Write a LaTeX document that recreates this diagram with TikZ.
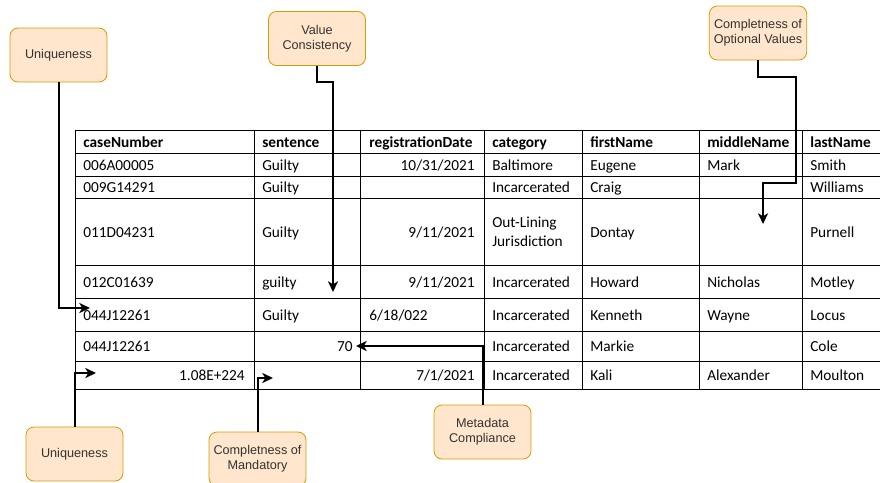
\documentclass[tikz,border=0pt]{standalone}
\usepackage{fontspec}
\setmainfont{Carlito}
\newfontfamily\notefont{Liberation Sans}
\usetikzlibrary{arrows.meta}
\definecolor{notefill}{HTML}{FFE6CC}
\definecolor{noteline}{HTML}{D79B00}
\definecolor{notetext}{HTML}{333333}

\begin{document}
\begin{tikzpicture}[x=0.75pt,y=-0.75pt,
  note/.style={draw=noteline, fill=notefill, line width=0.6pt, rounded corners=6pt,
    minimum width=72.75pt, minimum height=40.5pt, align=center, text=notetext,
    font=\notefont\fontsize{9.5}{11.5}\selectfont},
  cell/.style={anchor=base west, inner sep=0pt, font=\fontsize{11.5}{14.5}\selectfont},
  rcell/.style={cell, anchor=base east},
  head/.style={cell, font=\bfseries\fontsize{11.5}{14.5}\selectfont},
  link/.style={line width=1.5pt, -{Stealth[length=8pt,width=7.5pt,inset=2.2pt]}}]
  \clip (0,0) rectangle (880,482);
  % table grid
  \draw[line width=0.75pt] (75,130) rectangle (900,389);
  \foreach \y in {153,176,198,265,298,331,361}
    \draw[line width=0.75pt] (75,\y) -- (900,\y);
  \foreach \x in {254,360,484,582,699,802}
    \draw[line width=0.75pt] (\x,130) -- (\x,389);
  % header row
  \foreach \x/\t [count=\i] in {83/caseNumber,262/sentence,369/registrationDate,492/category,590/firstName,707/middleName,810/lastName}
    \node[head] (h\i) at (\x,147) {\t};
  % caseNumber
  \foreach \y/\t [count=\i] in {170/006A00005,192.5/009G14291,237/011D04231,287/012C01639,320/044J12261,351.5/044J12261}
    \node[cell] (a\i) at (83,\y) {\t};
  \node[rcell] (a7) at (245,380.5) {1.08E+224};
  % sentence
  \foreach \y/\t [count=\i] in {170/Guilty,192.5/Guilty,237/Guilty,287/guilty,320/Guilty}
    \node[cell] (b\i) at (262,\y) {\t};
  \node[rcell] (b6) at (353,351.5) {70};
  % registrationDate
  \node[rcell] (c1) at (475,170) {10/31/2021};
  \node[rcell] (c3) at (475,237) {9/11/2021};
  \node[rcell] (c4) at (475,287) {9/11/2021};
  \node[cell] (c5) at (369,320) {6/18/022};
  \node[rcell] (c7) at (475,380.5) {7/1/2021};
  % category
  \node[cell] (d1) at (492,170) {Baltimore};
  \node[cell, anchor=west, align=left] (d3) at (492,232) {Out-Lining\\Jurisdiction};
  \foreach \i/\y in {2/192.5,4/287,5/320,6/351.5,7/380.5}
    \node[cell] (d\i) at (492,\y) {Incarcerated};
  % firstName
  \foreach \y/\t [count=\i] in {170/Eugene,192.5/Craig,237/Dontay,287/Howard,320/Kenneth,351.5/Markie,380.5/Kali}
    \node[cell] (e\i) at (590,\y) {\t};
  % middleName
  \foreach \i/\y/\t in {1/170/Mark,4/287/Nicholas,5/320/Wayne,7/380.5/Alexander}
    \node[cell] (f\i) at (707,\y) {\t};
  % lastName
  \foreach \y/\t [count=\i] in {170/Smith,192.5/Williams,237/Purnell,287/Motley,320/Locus,351.5/Cole,380.5/Moulton}
    \node[cell] (g\i) at (810,\y) {\t};

  % notes
  \node[note] (uniq1) at (58.5,55) {Uniqueness};
  \node[note] (valcons) at (317,38.5) {Value\\Consistency};
  \node[note] (optval) at (758,33) {Completness of\\Optional Values};
  \node[note] (uniq2) at (74.5,454) {Uniqueness};
  \node[note] (mandval) at (257.5,459) {Completness of\\Mandatory};
  \node[note] (meta) at (482.5,432) {Metadata\\Compliance};

  % arrow targets
  \coordinate (dup1) at (90,308);
  \coordinate (badval) at (333,292);
  \coordinate (nomid) at (763,224);
  \coordinate (dup2) at (96,373);
  \coordinate (nosent) at (273,378);
  \coordinate (badtype) at (356,346);

  \draw[link] (uniq1.south) |- (dup1);
  \draw[link] (valcons.south) -- ++(0,16) -| (badval);
  \draw[link] (optval.south) -- ++(0,17) -- ++(38,0) -- ++(0,106) -| (nomid);
  \draw[link] (uniq2.north) |- (dup2);
  \draw[link] (mandval.north) |- (nosent);
  \draw[link] (meta.north) |- (badtype);
\end{tikzpicture}
\end{document}
